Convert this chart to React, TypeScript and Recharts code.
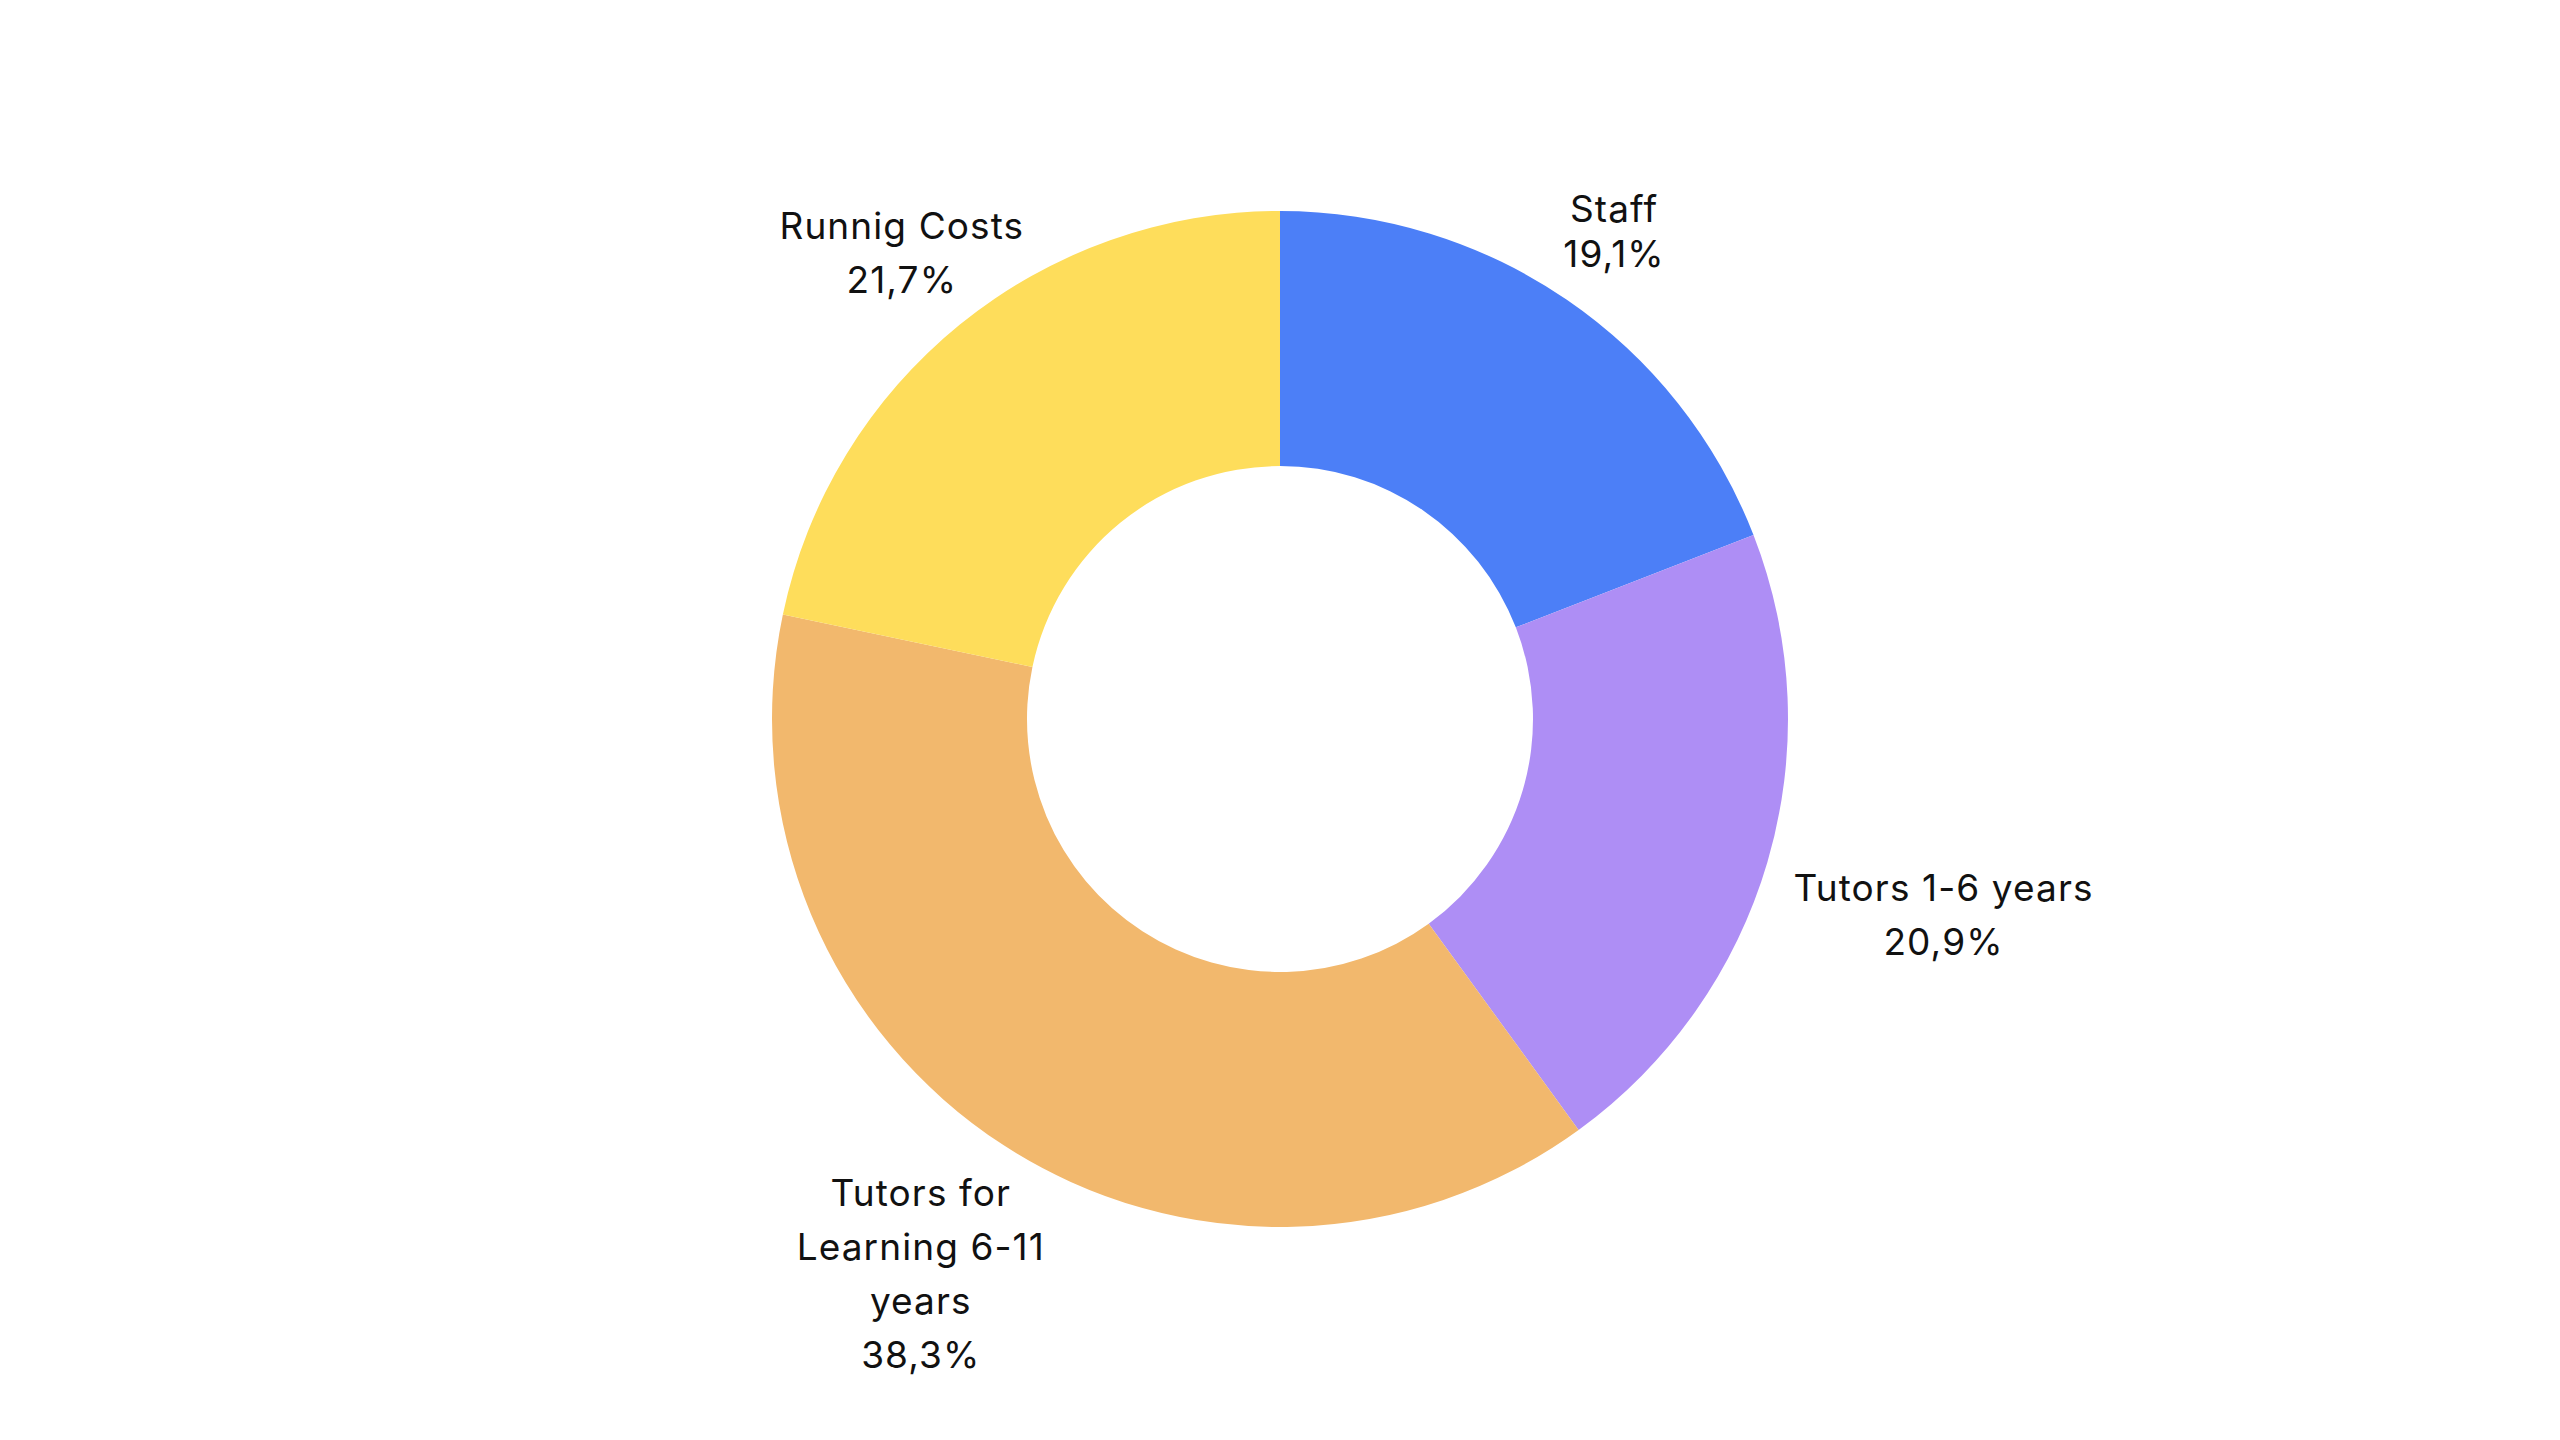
import React from 'react'
import { PieChart, Pie, Cell } from 'recharts'

const categories = ['Staff', 'Tutors 1-6 years', 'Tutors for\nLearning 6-11\nyears', 'Runnig Costs']
const shares = [19.1, 20.9, 38.3, 21.7]
const colors = ['#4C7FF7', '#AE8EF5', '#F2B86D', '#FEDD5B']

const data = categories.map((name, i) => ({ name, value: shares[i] }))

const FONT = 'Inter, sans-serif'
const FS = 37
const LS = 1.1
const LH = 54
const CAP = 27
const GAP = 40
// the Staff label sits a little tighter in the original
const tight: Record<string, number> = { Staff: 45 }

let ctx: CanvasRenderingContext2D | null = null
function measure(s: string) {
  if (!ctx) {
    ctx = document.createElement('canvas').getContext('2d')
    if (ctx) ctx.font = `${FS}px ${FONT}`
  }
  const base = ctx ? ctx.measureText(s).width : s.length * FS * 0.52
  return base + LS * s.length
}

const pct = (v: number) => v.toFixed(1).replace('.', ',') + '%'

// places each label box just outside the ring, along the slice's mid angle
function renderLabel(props: any) {
  const { cx, cy, midAngle, outerRadius, name, value } = props
  const lines = [...String(name).split('\n'), pct(value)]
  const lh = tight[name] ?? LH
  const w = Math.max(...lines.map(measure)) / 2
  const h = ((lines.length - 1) * lh + CAP) / 2
  const rad = (midAngle * Math.PI) / 180
  const c = Math.cos(rad)
  const s = Math.sin(rad)
  const d = Math.min(Math.abs(c) > 1e-6 ? w / Math.abs(c) : Infinity, Math.abs(s) > 1e-6 ? h / Math.abs(s) : Infinity)
  const r = outerRadius + GAP + d
  const x = cx + r * c
  const y = cy - r * s
  const top = y - h + CAP
  return (
    <text textAnchor="middle" fill="#111" fontFamily={FONT} fontSize={FS} letterSpacing={LS}>
      {lines.map((l, i) => (
        <tspan key={i} x={x} y={top + i * lh}>
          {l}
        </tspan>
      ))}
    </text>
  )
}

export default function App() {
  return (
    <div style={{ position: 'absolute', left: 0, top: 0, width: 2560, height: 1440, background: '#fff' }}>
      <PieChart width={2560} height={1440} margin={{ top: 0, right: 0, bottom: 0, left: 0 }}>
        <Pie
          data={data}
          dataKey="value"
          nameKey="name"
          cx={1280}
          cy={719}
          innerRadius={253}
          outerRadius={508}
          startAngle={90}
          endAngle={-270}
          stroke="none"
          label={renderLabel}
          labelLine={false}
          isAnimationActive={false}
        >
          {data.map((d, i) => (
            <Cell key={d.name} fill={colors[i]} />
          ))}
        </Pie>
      </PieChart>
    </div>
  )
}
